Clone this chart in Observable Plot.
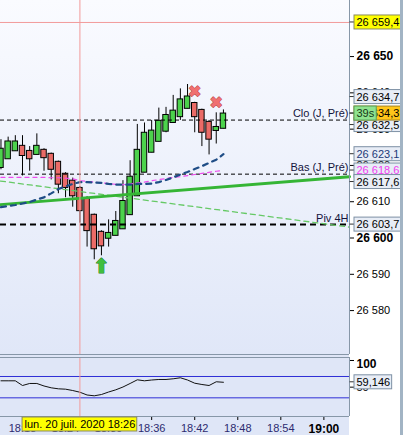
<!DOCTYPE html>
<html lang="fr">
<head>
<meta charset="utf-8">
<script src="https://cdn.jsdelivr.net/npm/d3@7"></script>
<script src="https://cdn.jsdelivr.net/npm/@observablehq/plot@0.6"></script>
<style>
html,body{margin:0;padding:0;background:#fff;}
#chart{position:relative;width:403px;height:435px;overflow:hidden;background:#fff;}
#chart svg{display:block;}
#strip{position:absolute;left:400px;top:0;width:3px;height:435px;background:#a2b4c4;}
</style>
</head>
<body>
<div id="chart"><div id="strip"></div></div>
<script>
// ---------------- DATA ----------------
const candleMinutes = [15,16,17,18,19,20,21,22,23,24,25,26,27,28,29,30,31,32,33,34,35,36,37,38,39,40,41,42,43,44,45,46]; // minutes after 18:00
const opens  = [26619.3,26621.7,26623.9,26625.4,26624.0,26622.9,26624.3,26623.2,26621.0,26617.7,26615.8,26613.8,26610.9,26606.4,26601.7,26599.8,26600.6,26602.4,26606.3,26611.5,26618.0,26623.5,26626.5,26629.3,26631.7,26633.3,26635.6,26637.2,26635.3,26632.0,26629.5,26630.1];
const highs  = [26627.1,26627.8,26628.2,26628.2,26625.2,26628.7,26624.6,26623.4,26621.2,26618.0,26616.5,26614.2,26611.4,26606.6,26602.0,26605.0,26607.3,26615.8,26621.3,26631.3,26631.7,26632.4,26635.8,26636.0,26639.3,26641.1,26642.3,26637.4,26635.5,26632.4,26634.5,26635.3];
const lows   = [26618.8,26621.7,26623.9,26617.1,26618.4,26622.9,26618.4,26616.0,26612.2,26611.1,26608.5,26604.1,26597.5,26594.0,26595.1,26597.5,26600.6,26602.4,26606.3,26611.5,26618.0,26623.5,26626.5,26629.0,26631.7,26632.4,26635.6,26629.0,26625.2,26622.9,26625.9,26630.1];
const closes = [26624.6,26626.6,26626.6,26622.6,26621.7,26625.4,26622.0,26618.8,26614.7,26613.8,26611.5,26607.4,26601.9,26596.9,26597.7,26601.4,26604.7,26610.2,26616.9,26624.3,26629.0,26629.6,26632.3,26633.9,26635.1,26638.2,26639.0,26633.3,26629.0,26627.1,26630.6,26634.3];
const navyAverage    = [26608.5,26608.8,26609.1,26609.5,26609.9,26610.6,26611.2,26612.3,26613.5,26614.2,26614.9,26615.4,26615.4,26615.3,26615.2,26614.9,26614.7,26614.7,26614.7,26614.9,26614.9,26615.0,26615.4,26616.0,26616.7,26617.5,26618.2,26619.0,26619.8,26620.7,26621.6,26623.1];
const magentaAverage = [26616.7,26616.7,26616.7,26616.7,26616.7,26616.7,26616.7,26616.6,26616.6,26616.5,26616.3,26615.8,26615.6,26615.4,26615.2,26615.0,26614.8,26614.7,26614.9,26615.2,26615.4,26615.8,26616.1,26616.4,26616.7,26616.9,26617.2,26617.5,26617.8,26618.1,26618.4,26618.6];
const oscillator = [61.9,61.9,61.9,53.1,56.9,56.9,52.2,48.8,46.9,46.2,43.7,40.5,35.3,33.8,36.2,40.9,45.0,50.3,56.9,63.8,61.9,63.4,64.4,64.4,65.7,67.6,63.4,57.4,55.0,53.1,60.1,59.146];

const xDomainMinutes = [14.934, 63.57];
const priceDomain = [26567.9, 26665.45];
const oscDomain = [-5, 105.6];

const priceTicks = [26580, 26590, 26600, 26610, 26620, 26630, 26640, 26650];
const boldPriceTicks = [26600, 26650];
const oscTicks = [100, 50];
const oscBands = [70, 30];
const timeTickMinutes = [18, 24, 30, 36, 42, 48, 54, 60];
const boldTimeTick = 60;

const levelValues = [26632.5, 26617.6, 26603.7];
const levelNames = ["Clo (J, Pré)", "Bas (J, Pré)", "Piv 4H"];
const trendSolidValues = [26609.2, 26616.9];   // at left / right edge
const trendDashedValues = [26615.7, 26603.0];  // at left / right edge

const cursorMinute = 26;
const cursorPrice = 26659.4;
const lastPrice = 26634.3;
const countdown = "39s";
const oscLast = 59.146;

const sellMinutes = [42, 45];
const sellPrices = [26640.2, 26637.2];
const buyMinutes = [29];
const buyPrices = [26592.0];

const axisLabelValues = [26659.4, 26634.7, 26632.5, 26623.1, 26618.6, 26617.6, 26603.7, 26634.3];

// ---------------- HELPERS ----------------
const T = m => new Date(2020, 6, 20, 18, 0, 0, Math.round(m * 60000));
const fr = d3.formatLocale({decimal: ",", thousands: " ", grouping: [3], currency: ["", ""]});
const fmtTick = fr.format(",");
const fmt1 = fr.format(",.1f");
const fmt3 = fr.format(",.3f");
const frTime = d3.timeFormatLocale({
  dateTime: "%A %e %B %Y à %X", date: "%d/%m/%Y", time: "%H:%M:%S", periods: ["AM", "PM"],
  days: ["dimanche","lundi","mardi","mercredi","jeudi","vendredi","samedi"],
  shortDays: ["dim.","lun.","mar.","mer.","jeu.","ven.","sam."],
  months: ["janvier","février","mars","avril","mai","juin","juillet","août","septembre","octobre","novembre","décembre"],
  shortMonths: ["janv.","févr.","mars","avr.","mai","juin","juil.","août","sept.","oct.","nov.","déc."]
});
const fmtCursor = frTime.format("%a %-d %b %Y %H:%M");
const fmtHM = d3.timeFormat("%H:%M");

const xDomain = xDomainMinutes.map(T);
const candles = candleMinutes.map((m, i) => ({
  m, t: T(m), o: opens[i], h: highs[i], l: lows[i], c: closes[i],
  navy: navyAverage[i], mag: magentaAverage[i], osc: oscillator[i]
}));
const up = candles.filter(d => d.c >= d.o);
const down = candles.filter(d => d.c < d.o);
const halfW = 0.38;
const trendSolid = xDomain.map((t, i) => ({t, v: trendSolidValues[i]}));
const trendDashed = xDomain.map((t, i) => ({t, v: trendDashedValues[i]}));
const levels = levelValues.map((v, i) => ({v, name: levelNames[i]}));
const sells = sellMinutes.map((m, i) => ({t: T(m), v: sellPrices[i]}));
const buys = buyMinutes.map((m, i) => ({t: T(m), v: buyPrices[i]}));

const FONT = "'Liberation Sans', Arial, sans-serif";
const frameColor = "#8797a8";
const crossColor = "#f29a9a";
const boxBg = "#e8edf6";
const boxStroke = "#7d90a4";

// label styles (by order of axisLabelValues)
const labelInk = ["#000", "#000", "#000", "#1d3a78", "#f03cf0", "#000", "#000", "#000"];
const labelBg  = ["#ffff00", boxBg, boxBg, boxBg, boxBg, boxBg, boxBg, "#ffc61a"];
const labelStroke = ["#8a8a60", boxStroke, boxStroke, boxStroke, boxStroke, boxStroke, boxStroke, "#a08020"];

// collision avoidance of right-hand labels (pixel space of the y scale)
const yS = Plot.scale({y: {domain: priceDomain, range: [354, 0]}});
const sepDown = 11.5, sepUp = 16.5;
const placed = [];
const display = new Array(axisLabelValues.length);
const fixedIdx = axisLabelValues.map((v, i) => i).filter(i => axisLabelValues[i] === cursorPrice || axisLabelValues[i] === lastPrice);
fixedIdx.forEach(i => { placed.push({v: axisLabelValues[i], py: yS.apply(axisLabelValues[i])}); display[i] = axisLabelValues[i]; });
axisLabelValues.forEach((v, i) => {
  if (fixedIdx.includes(i)) return;
  let py = yS.apply(v);
  for (let k = 0; k < 10; k++) {
    const c = placed.find(p => Math.abs(p.py - py) < sepDown - 0.01);
    if (!c) break;
    py = v > c.v ? c.py - sepUp : c.py + sepDown;
  }
  placed.push({v, py});
  display[i] = yS.invert(py);
});

const labelMarks = axisLabelValues.map((v, i) => Plot.text([display[i]], {
  y: d => d, text: () => fmt1(v), frameAnchor: "right", textAnchor: "start", dx: 7,
  fill: labelInk[i], fontSize: 11, fontFamily: FONT, ariaLabel: () => "plabel"
}));
const countdownMark = Plot.text([display[axisLabelValues.indexOf(lastPrice)]], {
  y: d => d, text: () => countdown, frameAnchor: "right", textAnchor: "start", dx: 7,
  fill: "#163816", fontSize: 11, fontFamily: FONT, ariaLabel: () => "plabel"
});
const allBg = labelBg.concat(["#8fe38f"]);
const allStroke = labelStroke.concat(["#5aa05a"]);

// ---------------- MAIN PANEL ----------------
const main = Plot.plot({
  width: 403, height: 355,
  marginLeft: 0, marginRight: 54, marginTop: 0, marginBottom: 1,
  style: {fontFamily: FONT, fontSize: "11px", color: "#000", background: "#fff"},
  x: {type: "time", domain: xDomain, axis: null},
  y: {domain: priceDomain, axis: "right", ticks: priceTicks, tickFormat: d => fmtTick(d), tickSize: 4, tickPadding: 3, label: null},
  marks: [
    Plot.ruleY([cursorPrice], {stroke: crossColor}),
    Plot.ruleX(candles, {x: "t", y1: "l", y2: "h", stroke: "#000", strokeWidth: 1}),
    Plot.rect(up, {x1: d => T(d.m - halfW), x2: d => T(d.m + halfW), y1: "o", y2: "c", fill: "#4cd24c", stroke: "#000", strokeWidth: 1}),
    Plot.rect(down, {x1: d => T(d.m - halfW), x2: d => T(d.m + halfW), y1: "o", y2: "c", fill: "#ea6b67", stroke: "#000", strokeWidth: 1}),
    Plot.ruleY(levels.slice(0, 2), {y: "v", stroke: "#000", strokeWidth: 1, strokeDasharray: "4,3"}),
    Plot.ruleY(levels.slice(2), {y: "v", stroke: "#000", strokeWidth: 2, strokeDasharray: "6,4"}),
    Plot.line(trendDashed, {x: "t", y: "v", stroke: "#66c966", strokeWidth: 1.3, strokeDasharray: "5,4"}),
    Plot.line(trendSolid, {x: "t", y: "v", stroke: "#35b535", strokeWidth: 3}),
    Plot.line(candles, {x: "t", y: "mag", stroke: "#ee4dee", strokeWidth: 1.2, strokeDasharray: "4,4"}),
    Plot.line(candles, {x: "t", y: "navy", stroke: "#1f4d86", strokeWidth: 2.2, strokeDasharray: "5,5"}),
    Plot.text(sells, {x: "t", y: "v", text: () => "✖", fill: "#f07070", stroke: "#b53a3a", strokeWidth: 1, fontSize: 16, fontFamily: "DejaVu Sans"}),
    Plot.text(buys, {x: "t", y: "v", text: () => "⬆", fill: "#3fbf3f", stroke: "#1f7f1f", strokeWidth: 1, fontSize: 20, fontFamily: "DejaVu Sans"}),
    Plot.text(levels, {y: "v", text: "name", frameAnchor: "right", textAnchor: "end", dx: -1, dy: -6.5, fill: "#14143c", fontSize: 11, fontFamily: FONT}),
    Plot.ruleX([T(cursorMinute)], {stroke: crossColor}),
    Plot.ruleX([xDomain[1]], {stroke: frameColor}),
    Plot.ruleY([priceDomain[0]], {stroke: frameColor}),
    ...labelMarks,
    countdownMark
  ]
});

// ---------------- OSCILLATOR PANEL ----------------
const lower = Plot.plot({
  width: 403, height: 80,
  marginLeft: 0, marginRight: 54, marginTop: 2, marginBottom: 19,
  style: {fontFamily: FONT, fontSize: "11px", color: "#000", background: "#fff"},
  x: {type: "time", domain: xDomain, ticks: timeTickMinutes.map(T), tickFormat: d => fmtHM(d), tickSize: 4, tickPadding: 4, label: null},
  y: {domain: oscDomain, axis: "right", ticks: oscTicks, tickFormat: d => fr.format(",")(d), tickSize: 4, tickPadding: 3, label: null},
  marks: [
    Plot.ruleY(oscBands, {stroke: "#2e2ed6"}),
    Plot.line(candles, {x: "t", y: "osc", stroke: "#111", strokeWidth: 1}),
    Plot.ruleX([T(cursorMinute)], {stroke: crossColor}),
    Plot.ruleY([oscDomain[0]], {stroke: frameColor}),
    Plot.ruleY([oscDomain[1]], {stroke: frameColor}),
    Plot.ruleX([xDomain[1]], {stroke: frameColor}),
    Plot.text([oscLast], {y: d => d, text: d => fmt3(d), frameAnchor: "right", textAnchor: "start", dx: 7, fill: "#000", fontSize: 11, fontFamily: FONT, ariaLabel: () => "olabel"}),
    Plot.text([T(cursorMinute)], {x: d => d, text: d => fmtCursor(d), frameAnchor: "bottom", dy: 11.5, fill: "#000", fontSize: 11, fontFamily: FONT, ariaLabel: () => "dlabel"})
  ]
});

const chart = document.getElementById("chart");
chart.insertBefore(main, chart.firstChild);
chart.insertBefore(lower, main.nextSibling);

// ---------------- POST-STYLING ----------------
const NS = "http://www.w3.org/2000/svg";
function el(name, attrs) { const e = document.createElementNS(NS, name); for (const k in attrs) e.setAttribute(k, attrs[k]); return e; }

// backgrounds
(function () {
  const xr = main.scale("x").range, yr = main.scale("y").range;
  const defs = el("defs", {});
  const lg = el("linearGradient", {id: "mainGrad", x1: 0, y1: 0, x2: 0, y2: 1});
  lg.appendChild(el("stop", {offset: 0, "stop-color": "#fafbff"}));
  lg.appendChild(el("stop", {offset: 1, "stop-color": "#e0e7f8"}));
  defs.appendChild(lg);
  main.insertBefore(defs, main.firstChild);
  main.insertBefore(el("rect", {x: Math.min(...xr), y: Math.min(...yr), width: Math.abs(xr[1] - xr[0]), height: Math.abs(yr[1] - yr[0]), fill: "url(#mainGrad)"}), defs.nextSibling);
  const lxr = lower.scale("x").range;
  lower.insertBefore(el("rect", {x: Math.min(...lxr), y: 0, width: Math.abs(lxr[1] - lxr[0]), height: 80, fill: "#dfe6f7"}), lower.firstChild);
})();

// tick label styling
const boldPrice = new Set(boldPriceTicks.map(d => fmtTick(d)));
main.querySelectorAll("text").forEach(t => {
  if (boldPrice.has(t.textContent)) { t.setAttribute("font-weight", "bold"); t.setAttribute("font-size", "12"); }
});
lower.querySelectorAll("text").forEach(t => {
  const s = t.textContent;
  if (s === String(oscTicks[0])) { t.setAttribute("font-weight", "bold"); t.setAttribute("font-size", "12"); t.setAttribute("dy", "0.3em"); }
  if (/^\d\d:\d\d$/.test(s)) {
    if (s === fmtHM(T(boldTimeTick))) { t.setAttribute("font-weight", "bold"); t.setAttribute("font-size", "12"); t.setAttribute("fill", "#000"); }
    else t.setAttribute("fill", "#2d2b6f");
  }
});

// boxed labels
function boxify(svg, aria, bgs, strokes, withTick) {
  const texts = [...svg.querySelectorAll(`text[aria-label="${aria}"]`)];
  const groups = [];
  texts.forEach(t => { const g = t.parentNode; if (!groups.includes(g)) groups.push(g); });
  groups.forEach(g => svg.appendChild(g));
  texts.forEach((t, i) => {
    const g = t.parentNode;
    const b = t.getBBox();
    const tf = t.getAttribute("transform") || "";
    const r = el("rect", {x: b.x - 2.5, y: b.y - 1, width: b.width + 4, height: b.height + 2,
      fill: bgs[i], stroke: strokes[i], "stroke-width": 1, transform: tf});
    g.insertBefore(r, t);
    if (withTick) {
      g.insertBefore(el("line", {x1: b.x - 7, x2: b.x - 2.5, y1: b.y + b.height / 2, y2: b.y + b.height / 2, stroke: "#333", "stroke-width": 1, transform: tf}), r);
    }
  });
}
boxify(main, "plabel", allBg, allStroke, true);
boxify(lower, "olabel", [boxBg], [boxStroke], true);
boxify(lower, "dlabel", ["#ffff00"], ["#8a8a60"], false);
</script>
</body>
</html>
